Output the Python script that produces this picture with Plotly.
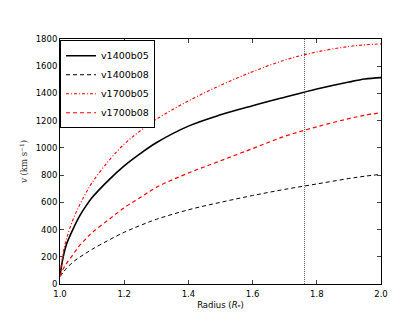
import plotly.graph_objects as go

radius = [1.0, 1.01, 1.02, 1.04, 1.06, 1.08, 1.1, 1.15, 1.2, 1.25, 1.3, 1.4,
          1.5, 1.6, 1.7, 1.8, 1.9, 1.95, 2.0]

v1400b05 = [60, 200, 290, 400, 495, 570, 635, 760, 868, 958, 1038, 1160,
            1243, 1310, 1372, 1432, 1484, 1506, 1516]
v1400b08 = [55, 85, 115, 160, 195, 225, 255, 320, 380, 430, 475, 545,
            600, 650, 695, 735, 775, 792, 806]
v1700b05 = [60, 230, 330, 470, 575, 665, 745, 900, 1028, 1125, 1210, 1345,
            1460, 1560, 1645, 1705, 1745, 1757, 1764]
v1700b08 = [55, 110, 150, 215, 280, 330, 378, 470, 560, 635, 710, 815,
            905, 995, 1085, 1155, 1215, 1240, 1258]

series_names = ["v1400b05", "v1400b08", "v1700b05", "v1700b08"]
vline_radius = 1.762

x_ticks = [1.0, 1.2, 1.4, 1.6, 1.8, 2.0]
x_tick_labels = ["1.0", "1.2", "1.4", "1.6", "1.8", "2.0"]
y_ticks = [0, 200, 400, 600, 800, 1000, 1200, 1400, 1600, 1800]
y_tick_labels = [str(v) for v in y_ticks]

fig = go.Figure()
styles = [
    dict(color="black", width=1.6, dash="solid"),
    dict(color="black", width=1, dash="4px,3px"),
    dict(color="red", width=1.1, dash="3px,2px,1px,2px"),
    dict(color="red", width=1.2, dash="4px,3px"),
]
for name, vals, st in zip(series_names, [v1400b05, v1400b08, v1700b05, v1700b08], styles):
    fig.add_trace(go.Scatter(x=radius, y=vals, mode="lines", name=name,
                             line=dict(shape="spline", smoothing=1.0, **st)))

fig.add_vline(x=vline_radius, line=dict(color="#555555", width=1, dash="1px,1px"))

fig.update_layout(
    width=415, height=312,
    margin=dict(l=52, r=42, t=31, b=32),
    paper_bgcolor="white", plot_bgcolor="white",
    font=dict(family="DejaVu Sans", size=8.5, color="black"),
    showlegend=True,
    legend=dict(x=0.0, y=0.995, xanchor="left", yanchor="top",
                bordercolor="black", borderwidth=1, bgcolor="white",
                font=dict(size=9.5), tracegroupgap=0, itemwidth=30),
)
fig.update_xaxes(range=[1.0, 2.0], tickvals=x_ticks, ticktext=x_tick_labels,
                 ticks="inside", ticklen=4, mirror="allticks", showline=True,
                 linecolor="black", linewidth=1, showgrid=False, zeroline=False,
                 ticklabelstandoff=2,
                 title=dict(text="Radius (<i>R</i><sub>*</sub>)", font=dict(size=8.5), standoff=3))
fig.update_yaxes(range=[0, 1800], tickvals=y_ticks, ticktext=y_tick_labels,
                 ticks="inside", ticklen=4, mirror="allticks", showline=True,
                 linecolor="black", linewidth=1, showgrid=False, zeroline=False,
                 title=dict(text="<i>v</i> (km s<sup>−1</sup>)", font=dict(size=8.5, family="DejaVu Serif", color="#333333"), standoff=6))

fig.write_html("out.html")
